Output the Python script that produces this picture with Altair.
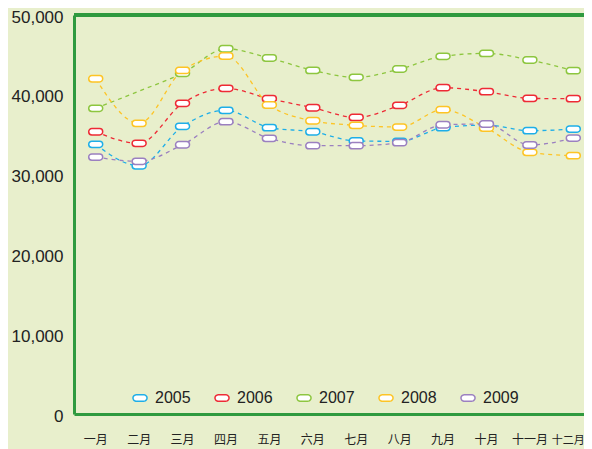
import altair as alt
import pandas as pd

months = ["一月", "二月", "三月", "四月", "五月", "六月", "七月", "八月", "九月", "十月", "十一月", "十二月"]
years = ["2005", "2006", "2007", "2008", "2009"]
s2005 = [33790, 31110, 36050, 38050, 35880, 35370, 34210, 34170, 35880, 36200, 35500, 35710]
s2006 = [35370, 33920, 38930, 40810, 39510, 38380, 37170, 38680, 40890, 40390, 39550, 39510]
s2007 = [38300, 40470, 42690, 45770, 44610, 43060, 42190, 43230, 44820, 45190, 44360, 43020]
s2008 = [42010, 36420, 43050, 44860, 38720, 36750, 36170, 35960, 38130, 35840, 32790, 32370]
s2009 = [32200, 31660, 33740, 36630, 34540, 33620, 33620, 34000, 36250, 36340, 33710, 34580]
series = [s2005, s2006, s2007, s2008, s2009]
hidden_markers = [("2007", "二月")]
colors = ["#1eaee8", "#ee2a35", "#8dc63f", "#fdc425", "#9b80c0"]
y_ticks = [0, 10000, 20000, 30000, 40000, 50000]

rows = []
for yr, vals in zip(years, series):
    for m, v in zip(months, vals):
        rows.append({"year": yr, "month": m, "value": v,
                     "marker": (yr, m) not in hidden_markers})
df = pd.DataFrame(rows)

green = "#2f9a3f"
capsule = "M -0.55 -0.45 L 0.55 -0.45 A 0.45 0.45 0 0 1 1 0 A 0.45 0.45 0 0 1 0.55 0.45 L -0.55 0.45 A 0.45 0.45 0 0 1 -1 0 A 0.45 0.45 0 0 1 -0.55 -0.45 Z"

last_label = "datum.value == '十二月'"
x_enc = alt.X("month:O", sort=months,
              scale=alt.Scale(type="band", domain=months, range=[0, 521],
                              paddingInner=0, paddingOuter=0),
              axis=alt.Axis(title=None, labelAngle=0,
                            labelFontSize=alt.condition(last_label, alt.value(11), alt.value(12)),
                            labelFont="Noto Sans CJK SC", labelColor="#222222",
                            labelPadding=20, ticks=False, domainColor=green,
                            domainWidth=3, grid=False, bandPosition=0.5,
                            labelOffset=alt.condition(last_label, alt.value(-5), alt.value(0))))
y_scale = alt.Scale(domain=[0, 50000], nice=False)
y_axis = alt.Axis(title=None, values=y_ticks, labelExpr="format(datum.value, ',')",
                  labelFontSize=17, labelFont="Liberation Sans", labelColor="#222222",
                  labelPadding=11, labelOffset=2, ticks=False, domainColor=green,
                  domainWidth=3, grid=False)
y_enc = alt.Y("value:Q", scale=y_scale, axis=y_axis)
color_scale = alt.Scale(domain=years, range=colors)
legend = alt.Legend(title=None, orient="none", direction="horizontal",
                    legendX=58, legendY=375, symbolType=capsule,
                    symbolSize=196, symbolFillColor="white",
                    symbolStrokeWidth=1.5, labelFontSize=16,
                    labelFont="Liberation Sans", labelColor="#222222",
                    labelOffset=7, columnPadding=21, padding=0,
                    symbolOpacity=1, symbolDash=[1, 0])

lines = alt.Chart(df).mark_line(strokeDash=[4, 4], strokeWidth=1.3, interpolate="monotone").encode(
    x=x_enc, y=y_enc,
    color=alt.Color("year:N", scale=color_scale, legend=legend),
)

points = alt.Chart(df).transform_filter("datum.marker").mark_point(
    shape=capsule, size=196, filled=False, fill="white", fillOpacity=1,
    strokeWidth=1.5, opacity=1
).encode(
    x=x_enc, y=y_enc,
    color=alt.Color("year:N", scale=color_scale, legend=legend),
)

top = alt.Chart(df).mark_rule(color=green, strokeWidth=3).encode(
    y=alt.Y(datum=50000, scale=y_scale, axis=y_axis)
)

chart = alt.layer(lines, points, top).properties(
    width=510, height=399,
    autosize=alt.AutoSizeParams(type="none"),
    padding={"left": 66, "top": 7, "right": 0, "bottom": 36},
    background="#e8efcc",
).configure_view(strokeWidth=0)

chart.save("out.html", embed_options={"renderer": "svg", "actions": False})
